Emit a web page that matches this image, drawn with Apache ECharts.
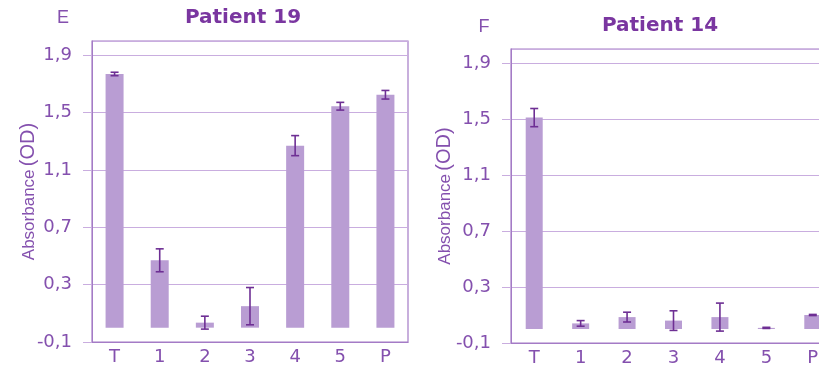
<!DOCTYPE html>
<html>
<head>
<meta charset="utf-8">
<script src="https://cdn.jsdelivr.net/npm/echarts@6/dist/echarts.min.js"></script>
<style>
html,body{margin:0;padding:0;background:#fff;}
#c{width:819px;height:366px;}
</style>
</head>
<body>
<div id="c"></div>
<script>
// ---- data ----
const categories = ['T', '1', '2', '3', '4', '5', 'P'];
const p19Values = [1.77, 0.47, 0.035, 0.15, 1.27, 1.545, 1.625];
const p19Errors = [0.012, 0.08, 0.045, 0.13, 0.07, 0.027, 0.03];
const p14Values = [1.51, 0.04, 0.085, 0.06, 0.085, 0.008, 0.10];
const p14Errors = [0.065, 0.02, 0.035, 0.07, 0.1, 0.004, 0.004];
const yTicks = { min: -0.1, max: 2.0, interval: 0.4 };
const panelTitles = ['Patient 19', 'Patient 14'];
const panelLetters = ['E', 'F'];

// ---- styles ----
const barColor = '#b99dd3';
const errColor = '#6e2f94';
const gridColor = '#c9addf';
const axisColor = '#a47bc6';
const textColor = '#8450ae';
const titleColor = '#7a36a0';
const numFont = 'DejaVu Sans';

function fmt(v) { return v.toFixed(1).replace('.', ','); }

function errData(vals, errs) {
  return vals.map((v, i) => [i, v - errs[i], v + errs[i]]);
}

function errRender(params, api) {
  const x = api.value(0);
  const lo = api.coord([x, api.value(1)]);
  const hi = api.coord([x, api.value(2)]);
  const hw = 4;
  const style = { stroke: errColor, lineWidth: 1.6 };
  return {
    type: 'group',
    children: [
      { type: 'line', shape: { x1: lo[0], y1: lo[1], x2: hi[0], y2: hi[1] }, style },
      { type: 'line', shape: { x1: lo[0] - hw, y1: lo[1], x2: lo[0] + hw, y2: lo[1] }, style },
      { type: 'line', shape: { x1: hi[0] - hw, y1: hi[1], x2: hi[0] + hw, y2: hi[1] }, style }
    ]
  };
}

const grids = [
  { left: 92, top: 41, width: 316, height: 301 },
  { left: 511, top: 49, width: 325, height: 294 }
];
const nameGaps = [54, 57];

function yAxis(i) {
  return {
    type: 'value', gridIndex: i,
    min: yTicks.min, max: yTicks.max, interval: yTicks.interval,
    name: '{a|Absorbance} {b|(OD)}',
    nameLocation: 'middle', nameRotate: 90, nameGap: nameGaps[i],
    nameMoveOverlap: false,
    nameTextStyle: {
      color: textColor,
      rich: {
        a: { fontFamily: 'Liberation Sans Narrow, Liberation Sans', fontSize: 17, color: textColor, verticalAlign: 'bottom' },
        b: { fontFamily: 'Liberation Sans', fontSize: 20, color: textColor, verticalAlign: 'bottom' }
      }
    },
    axisLine: { show: true, lineStyle: { color: axisColor, width: 1 } },
    axisTick: { show: true, length: 9, lineStyle: { color: gridColor } },
    splitLine: { show: true, lineStyle: { color: gridColor, width: 1.2 } },
    axisLabel: {
      showMaxLabel: false, margin: 20,
      fontFamily: numFont, fontSize: 18, color: textColor,
      formatter: v => fmt(v)
    }
  };
}

function xAxis(i) {
  return {
    type: 'category', gridIndex: i, data: categories,
    axisLine: { show: true, onZero: false, lineStyle: { color: axisColor, width: 1.2 } },
    axisTick: { show: false },
    axisLabel: { fontFamily: numFont, fontSize: 18, color: textColor, margin: 6 }
  };
}

const option = {
  animation: false,
  backgroundColor: '#ffffff',
  grid: grids.map(g => Object.assign({
    show: true, borderColor: axisColor, borderWidth: 1.2, backgroundColor: 'transparent',
    containLabel: false, outerBoundsMode: 'none'
  }, g)),
  xAxis: [xAxis(0), xAxis(1)],
  yAxis: [yAxis(0), yAxis(1)],
  series: [
    { type: 'bar', xAxisIndex: 0, yAxisIndex: 0, data: p19Values, barWidth: 18, itemStyle: { color: barColor } },
    { type: 'custom', xAxisIndex: 0, yAxisIndex: 0, data: errData(p19Values, p19Errors), renderItem: errRender, z: 5 },
    { type: 'bar', xAxisIndex: 1, yAxisIndex: 1, data: p14Values, barWidth: 17, itemStyle: { color: barColor } },
    { type: 'custom', xAxisIndex: 1, yAxisIndex: 1, data: errData(p14Values, p14Errors), renderItem: errRender, z: 5 }
  ],
  graphic: [
    { type: 'text', x: 243, y: 18, style: { text: panelTitles[0], textAlign: 'center', textVerticalAlign: 'middle', font: 'bold 20px "DejaVu Sans"', fill: titleColor } },
    { type: 'text', x: 660, y: 26, style: { text: panelTitles[1], textAlign: 'center', textVerticalAlign: 'middle', font: 'bold 20px "DejaVu Sans"', fill: titleColor } },
    { type: 'text', x: 63, y: 18, style: { text: panelLetters[0], textAlign: 'center', textVerticalAlign: 'middle', font: '18px "Liberation Sans"', fill: textColor } },
    { type: 'text', x: 484, y: 27, style: { text: panelLetters[1], textAlign: 'center', textVerticalAlign: 'middle', font: '18px "Liberation Sans"', fill: textColor } }
  ]
};

const chart = echarts.init(document.getElementById('c'), null, { renderer: 'canvas' });
chart.setOption(option);
</script>
</body>
</html>
